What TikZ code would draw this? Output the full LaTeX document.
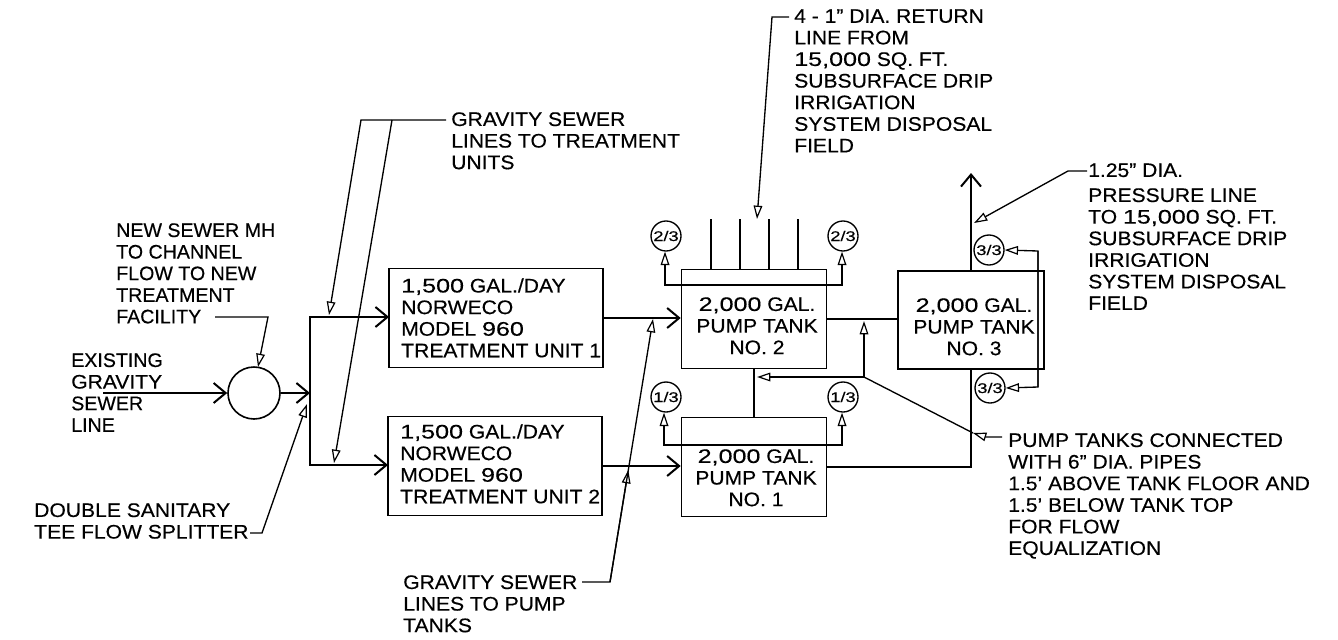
\documentclass[tikz,border=0pt]{standalone}
\usepackage{fontspec}
\setmainfont[FakeStretch=1.075,FakeBold=0.4]{Liberation Sans}
\usetikzlibrary{arrows.meta}
\newfontfamily\circfont[FakeStretch=1.3,FakeBold=0.3]{Liberation Sans}
\newfontfamily\digfont[FakeStretch=1.28,FakeBold=0.3]{Liberation Sans}
\newfontfamily\narrowfont[FakeStretch=1.0,FakeBold=0.4]{Liberation Sans}
\newcommand{\dg}[1]{{\digfont #1}}
\tikzset{
  x=0.75pt,y=-0.75pt,
  pipe/.style={line width=1.2pt,line join=miter},
  lead/.style={line width=1pt},
  chev/.style={-{Straight Barb[length=9pt,width=15pt,line width=1.5pt]}},
  tri/.style={-{Triangle[open,length=10pt,width=6.5pt,line width=0.9pt]}},
  lbl/.style={anchor=north west,inner sep=0pt,align=left,font=\fontsize{14.7}{16.2}\selectfont},
  ctr/.style={anchor=north,inner sep=0pt,align=center,font=\fontsize{14.7}{16.2}\selectfont},
  tankbox/.style={draw,pipe,minimum width=108.75pt,minimum height=74.25pt,inner sep=0pt},
  unitbox/.style={draw,pipe,minimum width=160.5pt,minimum height=74.25pt,inner sep=0pt},
  gauge/.style={draw,line width=1pt,circle,minimum size=22.5pt,inner sep=0pt,font=\circfont\fontsize{10.5}{11}\selectfont},
}
\begin{document}
\begin{tikzpicture}
\useasboundingbox (0,0) rectangle (1338,639);
% boxes
\node[unitbox] (unit1) at (496,318) {};
\node[unitbox] (unit2) at (495,466) {};
\node[tankbox] (tank2) at (754,319) {};
\node[tankbox] (tank1) at (754,467) {};
\node[tankbox,minimum width=109.5pt,minimum height=73.5pt] (tank3) at (971,320) {};
\node[draw,pipe,circle,minimum size=39pt,inner sep=0pt] (mh) at (254,393) {};
% box texts
\node[lbl] (t1) at (401,278) {\dg{1,500} GAL./DAY\\NORWECO\\MODEL \dg{960}\\TREATMENT UNIT 1};
\node[lbl] (t2) at (400,424) {\dg{1,500} GAL./DAY\\NORWECO\\MODEL \dg{960}\\TREATMENT UNIT 2};
\node[ctr] (t3) at (757,297) {\dg{2,000} GAL.\\PUMP TANK\\NO. 2};
\node[ctr] (t4) at (756,449) {\dg{2,000} GAL.\\PUMP TANK\\NO. 1};
\node[ctr] (t5) at (974,298) {\dg{2,000} GAL.\\PUMP TANK\\NO. 3};
% gauges
\node[gauge] (g2l) at (666,236) {2/3};
\node[gauge] (g2r) at (843,236) {2/3};
\node[gauge] (g1l) at (666,397) {1/3};
\node[gauge] (g1r) at (843,397) {1/3};
\node[gauge] (g3t) at (989,250) {3/3};
\node[gauge] (g3b) at (990,388) {3/3};
% labels
\node[lbl] (lnew) at (116,223) {\narrowfont NEW SEWER MH\\\narrowfont TO CHANNEL\\\narrowfont FLOW TO NEW\\\narrowfont TREATMENT\\\narrowfont FACILITY};
\node[lbl] (lexist) at (71,353) {\narrowfont EXISTING\\GRAVITY\\\narrowfont SEWER\\\narrowfont LINE};
\node[lbl] (ldouble) at (34,503) {DOUBLE SANITARY\\TEE FLOW SPLITTER};
\node[lbl] (lgrav) at (451,112) {GRAVITY SEWER\\LINES TO TREATMENT\\UNITS};
\node[lbl] (lgravp) at (403,575) {GRAVITY SEWER\\LINES TO PUMP\\TANKS};
\node[lbl] (lret) at (794,9) {4 - 1" DIA. RETURN\\LINE FROM\\\dg{15,000} SQ. FT.\\SUBSURFACE DRIP\\IRRIGATION\\SYSTEM DISPOSAL\\FIELD};
\node[lbl] (lpres) at (1088,163) {1.25" DIA.};
\node[lbl] (lpres2) at (1088,188) {PRESSURE LINE\\TO \dg{15,000} SQ. FT.\\SUBSURFACE DRIP\\IRRIGATION\\SYSTEM DISPOSAL\\FIELD};
\node[lbl] (lpump) at (1008,433) {PUMP TANKS CONNECTED\\WITH 6" DIA. PIPES\\1.5' ABOVE TANK FLOOR AND\\1.5' BELOW TANK TOP\\FOR FLOW\\EQUALIZATION};
% coordinates
\coordinate (in) at (103,393);
\coordinate (split) at (310,393);
\coordinate (stop) at (310,317);
\coordinate (sbot) at (310,465);
\coordinate (u1in) at (389,317);
\coordinate (u2in) at (388,465);
\coordinate (out) at (971,173);
\foreach \n/\x in {r1/711,r2/740,r3/769,r4/798}{\coordinate (\n) at (\x,219);}
\coordinate (a2l) at (665,285);
\coordinate (a2r) at (842,285);
\coordinate (a1l) at (664,445);
\coordinate (a1r) at (842,445);
\coordinate (j3t) at (1038,251);
\coordinate (j3b) at (1038,387);
% pipes
\draw[pipe,chev] (in) -- (mh.west);
\draw[pipe,chev] (mh.east) -- (split);
\draw[pipe,chev] (split) -- (stop) -- (u1in);
\draw[pipe,chev] (split) -- (sbot) -- (u2in);
\draw[pipe,chev] (unit1.east) -- (unit1.east -| tank2.west);
\draw[pipe,chev] (unit2.east) -- (unit2.east -| tank1.west);
\draw[pipe] (tank2.east) -- (tank2.east -| tank3.west);
\draw[pipe] (tank2.south) -- (tank1.north);
\draw[pipe,chev] (tank3.north) -- (out);
\draw[pipe] (tank3.south) |- (tank1.east);
\foreach \n in {r1,r2,r3,r4}{\draw[pipe] (\n) -- (\n |- tank2.north);}
% gauge wiring
\draw[lead,tri] (a2r) -- (a2l) -- (a2l |- g2l.south);
\draw[lead,tri] (a2l) -- (a2r) -- (a2r |- g2r.south);
\draw[lead,tri] (a1r) -- (a1l) -- (a1l |- g1l.south);
\draw[lead,tri] (a1l) -- (a1r) -- (a1r |- g1r.south);
\draw[lead,tri] (j3b) -- (j3t) -- (g3t.east);
\draw[lead,tri] (j3t) -- (j3b) -- (g3b.east);
% leaders
\coordinate (fac) at (215,317); \coordinate (fac2) at (268,317); \coordinate (fact) at (258,367);
\draw[lead,tri] (fac) -- (fac2) -- (fact);
\coordinate (dbl) at (250,533); \coordinate (dbl2) at (262,533); \coordinate (dblt) at (307,404);
\draw[lead,tri] (dbl) -- (dbl2) -- (dblt);
\coordinate (gr0) at (446,120); \coordinate (gr1) at (361,120); \coordinate (gr2) at (392,120);
\coordinate (grt1) at (329,315); \coordinate (grt2) at (334,463);
\draw[lead,tri] (gr0) -- (gr1) -- (grt1);
\draw[lead,tri] (gr2) -- (grt2);
\coordinate (gp0) at (582,582); \coordinate (gp1) at (610,582);
\coordinate (gpt1) at (653,319); \coordinate (gpt2) at (628.3,470);
\draw[lead,tri] (gp0) -- (gp1) -- (gpt1);
\draw[lead,tri] (gp1) -- (gpt2);
\coordinate (re0) at (789,17); \coordinate (re1) at (772,17); \coordinate (ret) at (757,219);
\draw[lead,tri] (re0) -- (re1) -- (ret);
\coordinate (pr0) at (1087,171); \coordinate (pr1) at (1068,171); \coordinate (prt) at (974,223);
\draw[lead,tri] (pr0) -- (pr1) -- (prt);
\coordinate (pu0) at (1002,437); \coordinate (pu1) at (986,437); \coordinate (put) at (973,433);
\coordinate (eq) at (864,377); \coordinate (eq2) at (864,321); \coordinate (eq3) at (757,377);
\draw[lead,tri] (pu0) -- (pu1) -- (put);
\draw[lead] (put) -- (eq);
\draw[lead,tri] (eq) -- (eq2);
\draw[lead,tri] (eq) -- (eq3);
\end{tikzpicture}
\end{document}
